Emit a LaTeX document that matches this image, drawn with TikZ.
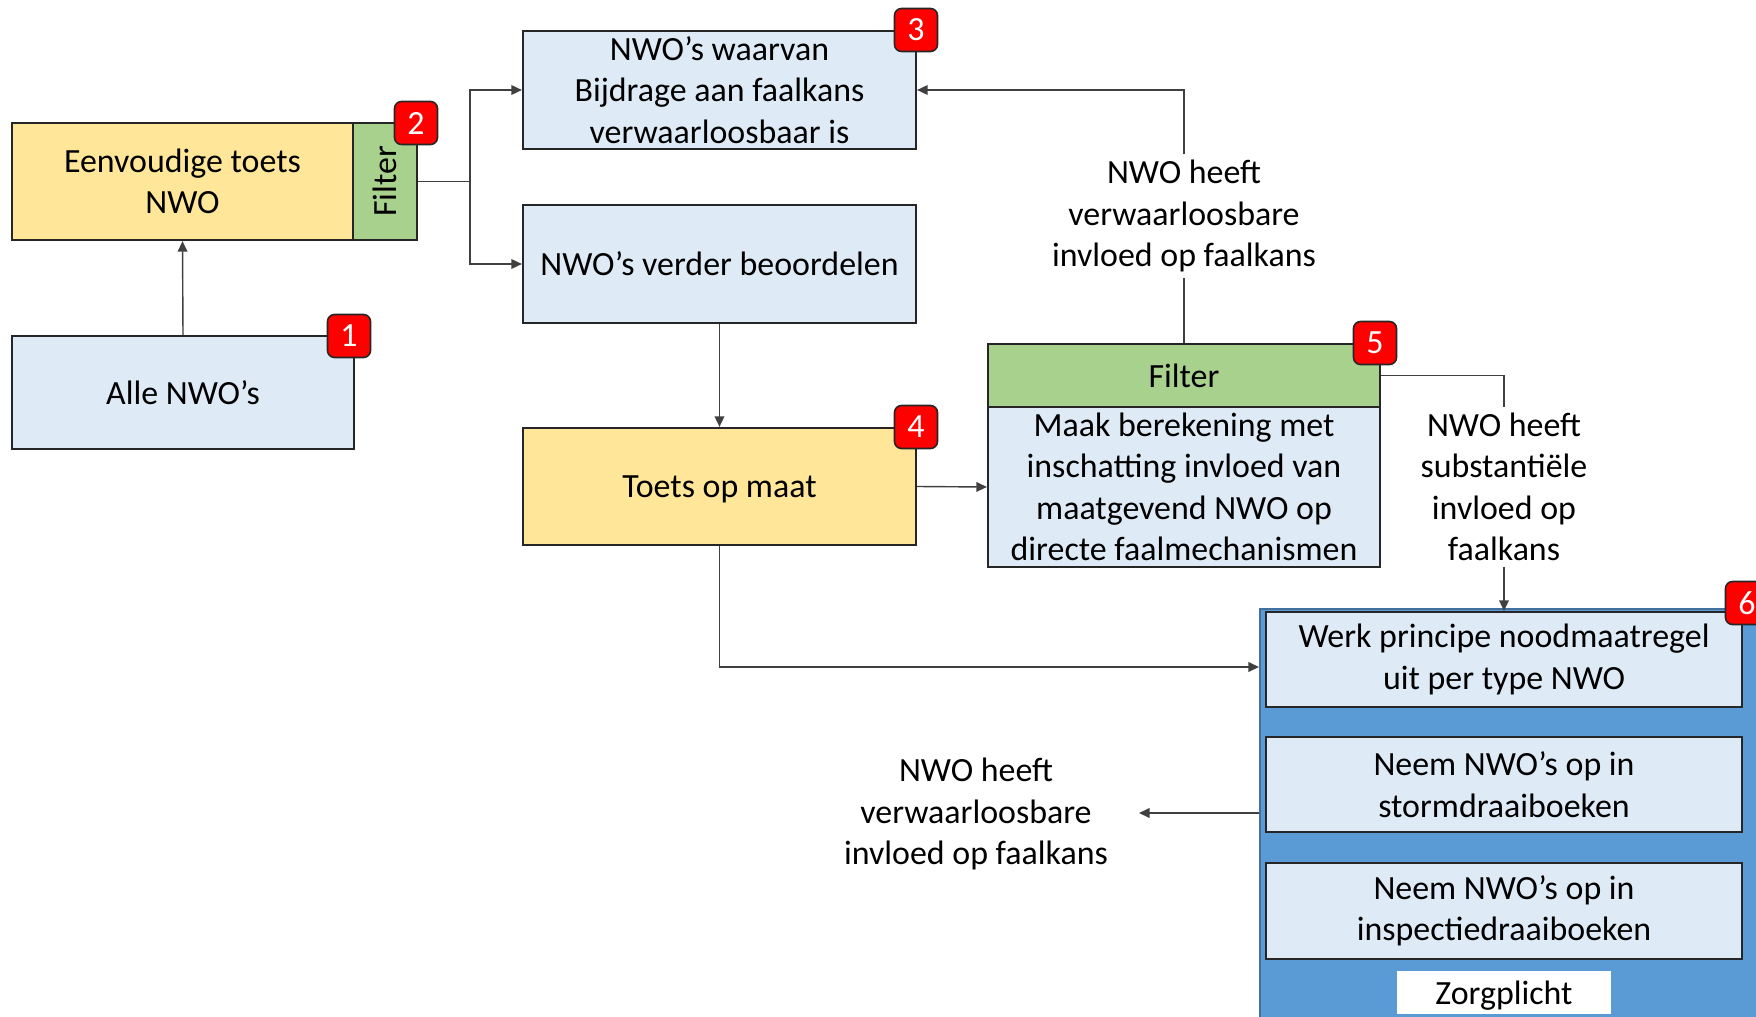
\documentclass[tikz,border=0pt]{standalone}
\usepackage{fontspec}
\setmainfont{Carlito}
\usetikzlibrary{arrows.meta}
\definecolor{lblue}{HTML}{DEEBF7}
\definecolor{lyellow}{HTML}{FFE699}
\definecolor{lgreen}{HTML}{A9D18E}
\definecolor{cblue}{HTML}{5B9BD5}
\definecolor{cborder}{HTML}{41719C}
\definecolor{bred}{HTML}{FF0000}
\begin{document}
\begin{tikzpicture}[x=0.02cm,y=-0.02cm,
  every node/.style={font=\fontsize{19.3}{23.6}\selectfont, align=center},
  box/.style={draw=black!85, line width=1.3pt, fill=lblue, inner sep=0pt},
  ybox/.style={box, fill=lyellow},
  gbox/.style={box, fill=lgreen},
  badge/.style={draw=black!85, line width=0.9pt, fill=bred, rounded corners=0.14cm,
    minimum width=0.86cm, minimum height=0.86cm, inner sep=0pt, text=white},
  lbl/.style={inner sep=3pt},
  conn/.style={draw=black!75, line width=0.8pt},
  arr/.style={conn, -{Triangle[length=6pt,width=5.5pt]}}
]
\useasboundingbox (0,0) rectangle (1756,1017);
\clip (0,0) rectangle (1756,1017);

% container 6
\node[draw=cborder, line width=1pt, fill=cblue, minimum width=10.4cm, minimum height=8.6cm, inner sep=0pt, anchor=north west] (cont) at (1259,608) {};
\node[box, minimum width=9.52cm, minimum height=1.9cm] (iA) at (1504,659.5) {Werk principe noodmaatregel\\uit per type NWO};
\node[box, minimum width=9.52cm, minimum height=1.9cm] (iB) at (1504,784.5) {Neem NWO’s op in\\stormdraaiboeken};
\node[box, minimum width=9.52cm, minimum height=1.92cm] (iC) at (1504,911) {Neem NWO’s op in\\inspectiedraaiboeken};
\node[fill=white, minimum width=4.28cm, minimum height=0.86cm, inner sep=0pt, text depth=0pt] (zp) at (1504,992.5) {Zorgplicht};

% left column
\node[box, minimum width=6.84cm, minimum height=2.26cm] (b1) at (183,392.5) {Alle NWO’s};
\node[ybox, minimum width=6.82cm, minimum height=2.34cm] (ey) at (182.5,181.5) {Eenvoudige toets\\NWO};
\node[gbox, minimum width=1.28cm, minimum height=2.34cm] (fl) at (385,181.5) {};
\node[rotate=90] (flt) at (fl.center) {Filter};

% middle column
\node[box, minimum width=7.86cm, minimum height=2.36cm] (b3) at (719.5,90) {NWO’s waarvan\\Bijdrage aan faalkans\\verwaarloosbaar is};
\node[box, minimum width=7.86cm, minimum height=2.36cm] (b2) at (719.5,264) {NWO’s verder beoordelen};
\node[ybox, minimum width=7.86cm, minimum height=2.34cm, text depth=0pt] (b4) at (719.5,486.5) {Toets op maat};

% box 5
\node[gbox, minimum width=7.84cm, minimum height=1.26cm] (f5) at (1184,375.5) {Filter};
\node[box, minimum width=7.84cm, minimum height=3.2cm] (m5) at (1184,487) {Maak berekening met\\inschatting invloed van\\maatgevend NWO op\\directe faalmechanismen};

% labels
\node[lbl] (t1) at (1184,216) {NWO heeft\\verwaarloosbare\\invloed op faalkans};
\node[lbl] (t2) at (1504,487) {NWO heeft\\substantiële\\invloed op\\faalkans};
\node[lbl] (t3) at (976,814) {NWO heeft\\verwaarloosbare\\invloed op faalkans};

% badges
\node[badge] (n1) at (349,336) {1};
\node[badge] (n2) at (416,123) {2};
\node[badge] (n3) at (916,30) {3};
\node[badge] (n4) at (916,427) {4};
\node[badge] (n5) at (1375,343) {5};
\node[badge] (n6) at (1747,603) {6};

% coordinates
\coordinate (cin) at (1259,667);
\coordinate (cout) at (1259,813);
\coordinate (tip3) at (1139,813);
\coordinate (j) at (470,181.5);

% connectors
\draw[arr] (b1.north) -- (ey.south);
\draw[conn] (fl.east) -- (j);
\draw[arr] (j) |- (b3.west);
\draw[arr] (j) |- (b2.west);
\draw[arr] (b2.south) -- (b4.north);
\draw[arr] (b4.east) -- (m5.west);
\draw[conn] (f5.north) -- (t1.south);
\draw[arr] (t1.north) |- (b3.east);
\draw[conn] (f5.east) -| (t2.north);
\draw[arr] (t2.south) -- (iA.north);
\draw[arr] (b4.south) |- (cin);
\draw[arr] (cout) -- (tip3);
\end{tikzpicture}
\end{document}
